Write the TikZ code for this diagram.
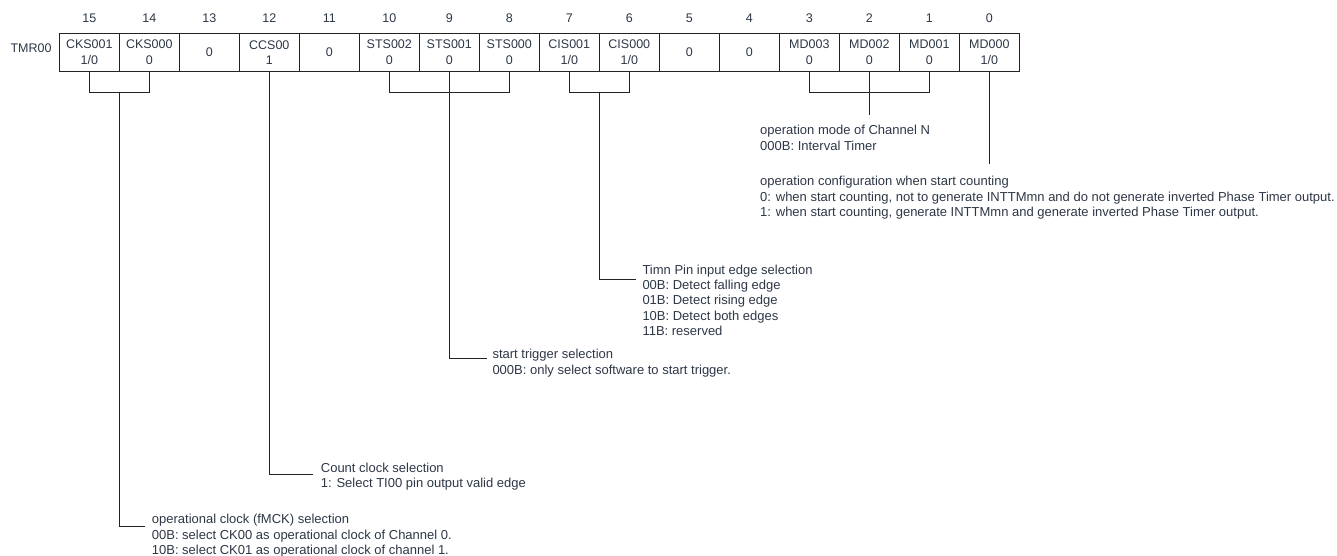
\documentclass[tikz,border=0pt]{standalone}
\usepackage{fontspec}
\setmainfont{Liberation Sans}
\usetikzlibrary{calc}

\definecolor{txtcol}{RGB}{45,55,70}
\definecolor{linecol}{RGB}{35,35,35}

\tikzset{
  cell/.style={draw=linecol, line width=0.8pt, minimum width=60pt,
    minimum height=38.4pt, inner sep=0pt, align=center,
    font=\fontsize{12.5}{15.7}\selectfont, text=txtcol},
  bitnum/.style={inner sep=0pt, font=\fontsize{12.5}{15}\selectfont, text=txtcol},
  desc/.style={anchor=north west, align=left, inner sep=0pt,
    font=\fontsize{13}{15.3}\selectfont, text=txtcol},
  lead/.style={draw=linecol, line width=0.8pt}
}

\begin{document}
\begin{tikzpicture}[x=1pt,y=-1pt]
\useasboundingbox (0,0) rectangle (1337,556);

% -------------------------------------------------
% Register TMR00
% -------------------------------------------------
\node[bitnum] (regname) at (31,48) {TMR00};

\foreach \b/\t in {15/{CKS001\\1/0}, 14/{CKS000\\0}, 13/0, 12/{CCS00\\1},
                   11/0, 10/{STS002\\0}, 9/{STS001\\0}, 8/{STS000\\0},
                   7/{CIS001\\1/0}, 6/{CIS000\\1/0}, 5/0, 4/0,
                   3/{MD003\\0}, 2/{MD002\\0}, 1/{MD001\\0}, 0/{MD000\\1/0}}
  \node[cell] (c\b) at ({89.3+60*(15-\b)},52.5) {\t};

% -------------------------------------------------
% Bit numbers
% -------------------------------------------------
\foreach \b in {0,...,15}
  \node[bitnum] (n\b) at ({89.3+60*(15-\b)},18.3) {\b};

% -------------------------------------------------
% Descriptions
% -------------------------------------------------
\node[desc] (mdsel) at (760,125.2) {operation mode of Channel N\\000B: Interval Timer};
\node[desc] (mdcfg) at (760,176.2) {operation configuration when start counting\\
  0: when start counting, not to generate INTTMmn and do not generate inverted Phase Timer output.\\
  1: when start counting, generate INTTMmn and generate inverted Phase Timer output.};
\node[desc] (cissel) at (642.3,264.5) {Timn Pin input edge selection\\00B: Detect falling edge\\
  01B: Detect rising edge\\10B: Detect both edges\\11B: reserved};
\node[desc] (stssel) at (492.3,349.2) {start trigger selection\\
  000B: only select software to start trigger.};
\node[desc] (ccssel) at (320.7,462.5) {Count clock selection\\1: Select TI00 pin output valid edge};
\node[desc] (ckssel) at (151.7,514.2) {operational clock (fMCK) selection\\
  00B: select CK00 as operational clock of Channel 0.\\
  10B: select CK01 as operational clock of channel 1.};

% -------------------------------------------------
% Leaders
% -------------------------------------------------
\draw[lead] (c15.south) -- ++(0,20) -| (c14.south);
\coordinate (cksj) at ($(c15.south)!.5!(c14.south)+(0,20)$);
\draw[lead] (cksj) |- ([shift={(-6.7,11.8)}]ckssel.north west);

\draw[lead] (c12.south) |- ([shift={(-7.7,11.8)}]ccssel.north west);

\draw[lead] (c10.south) -- ++(0,20) -| (c8.south);
\draw[lead] (c9.south) |- ([shift={(-5.6,9.5)}]stssel.north west);

\draw[lead] (c7.south) -- ++(0,20) -| (c6.south);
\coordinate (cisj) at ($(c7.south)!.5!(c6.south)+(0,20)$);
\draw[lead] (cisj) |- ([shift={(-6.3,14.8)}]cissel.north west);

\draw[lead] (c3.south) -- ++(0,20) -| (c1.south);
\draw[lead] (c2.south) -- ($(c2.south |- mdsel.north)+(0,-10.2)$);
\draw[lead] (c0.south) -- ($(c0.south |- mdcfg.north)+(0,-11.9)$);

\end{tikzpicture}
\end{document}
